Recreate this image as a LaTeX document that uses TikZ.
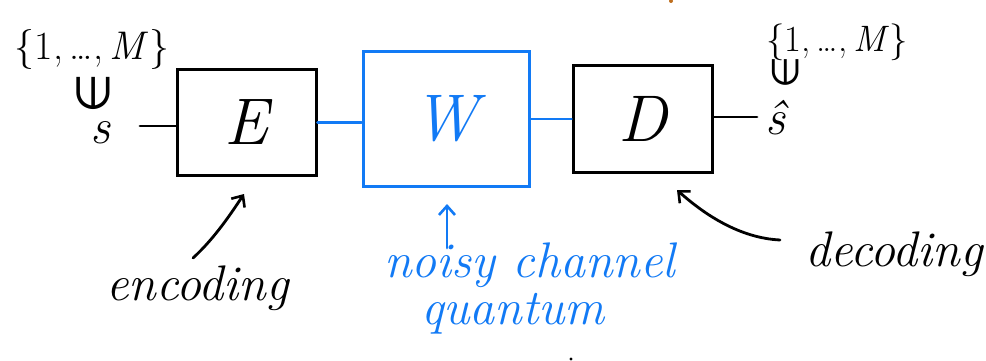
\documentclass[tikz,border=0pt]{standalone}
\usepackage{fontspec}
\newfontfamily\symbolfont{DejaVu Sans}
\usetikzlibrary{arrows.meta}
\definecolor{penblue}{RGB}{18,122,245}
\definecolor{penorange}{RGB}{190,110,30}
\tikzset{
  ink/.style={line width=2.8pt, line cap=round, line join=round},
  blockbox/.style={draw, line width=3pt, inner sep=0pt},
  hand/.style={inner sep=0pt, font=\fontsize{50}{54}\selectfont\itshape},
  letter/.style={inner sep=0pt, font=\fontsize{66}{70}\selectfont\itshape},
  setlbl/.style={inner sep=0pt, font=\fontsize{40}{44}\selectfont},
  memberof/.style={inner sep=0pt, font=\fontsize{46}{50}\selectfont\symbolfont},
  barb/.style={-{Straight Barb[length=9pt,width=16pt,line width=2.6pt]}},
}
\begin{document}
\begin{tikzpicture}[x=1pt,y=-1pt]
\useasboundingbox (0,0) rectangle (986,361);

% the three blocks
\node[blockbox, minimum width=139pt, minimum height=105pt] (E) at (246.5,122.5) {};
\node[blockbox, draw=penblue, minimum width=166pt, minimum height=134pt] (W) at (446,119) {};
\node[blockbox, minimum width=139pt, minimum height=106pt] (D) at (642.5,119) {};
\node[letter] (Elbl) at (E) {E};
\node[letter, text=penblue] (Wlbl) at (W) {W};
\node[letter] (Dlbl) at (D) {D};

% message in and estimate out
\node[hand] (s) at (100,133) {s};
\node[hand] (shat) at (775,118) {ŝ};
\coordinate (sin) at (140,126);
\coordinate (shatin) at (757,117);
\draw[ink] (sin) -- (sin -| E.west);
\draw[ink] (shatin -| D.east) -- (shatin);

% channel wiring
\draw[ink, penblue] (E.east) -- (E.east -| W.west);
\draw[ink, penblue] (W.east) -- (D.west);

% message sets, each with an upturned element-of sign below
\node[setlbl] (setL) at (92,50) {\{1,\,…,\,\textit{M}\}};
\node[memberof, rotate=90] (inL) at (93,93) {∈};
\node[setlbl, scale=0.92] (setR) at (837,42) {\{1,\,…,\,\textit{M}\}};
\node[memberof, rotate=90, scale=0.8] (inR) at (786,72) {∈};

% annotations
\node[hand, anchor=base west] (enc) at (106,300) {encoding};
\coordinate (encTail) at (193,258);
\coordinate (encHead) at (244,194);
\draw[ink, barb] (encTail) .. controls (215,238) and (232,212) .. (encHead);

\node[hand, text=penblue, anchor=base west] (noisy) at (384,277) {noisy channel};
\node[hand, text=penblue, anchor=base west] (quant) at (421,324) {quantum};
\coordinate (chTail) at (447,248);
\coordinate (chHead) at (447,204);
\draw[ink, penblue, barb] (chTail) -- (chHead);

\node[hand, anchor=base west] (dec) at (805,266) {decoding};
\coordinate (decTail) at (780,240);
\coordinate (decHead) at (677,190);
\draw[ink, barb] (decTail) .. controls (740,238) and (705,215) .. (decHead);

% stray pen marks
\fill[penorange] (671,1) circle (2pt);
\fill (571,359) circle (1.6pt);
\end{tikzpicture}
\end{document}
